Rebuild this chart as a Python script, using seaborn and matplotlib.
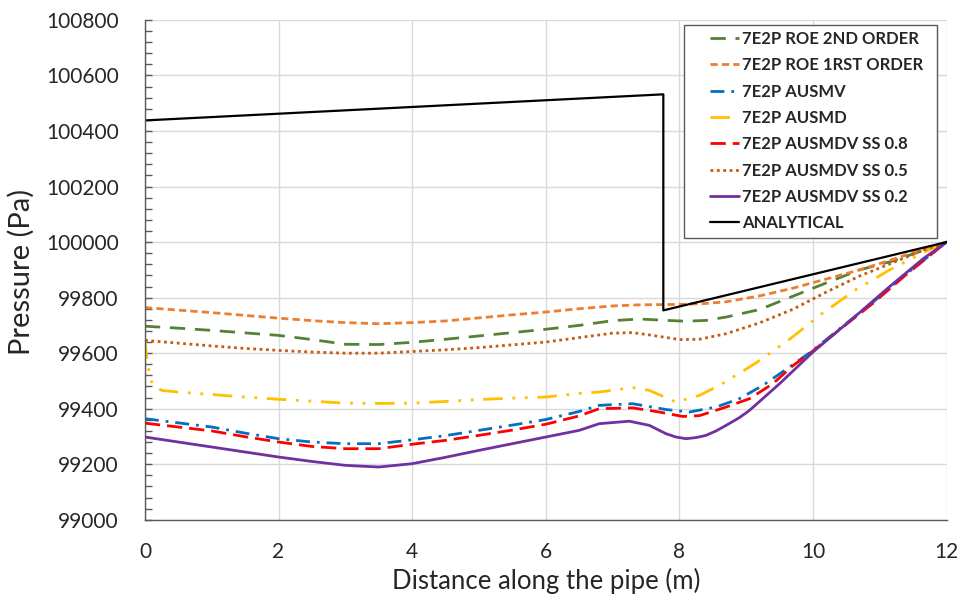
import matplotlib
matplotlib.use("Agg")
import matplotlib.pyplot as plt
from matplotlib.ticker import MultipleLocator
from matplotlib.patches import Rectangle
import seaborn as sns

# ---------------- data ----------------
x_roe1 = [0, 0.5, 1, 1.5, 2, 2.5, 3, 3.5, 4, 4.5, 5, 5.5, 6, 6.5, 7, 7.4, 7.8, 8.1, 8.4, 8.7, 9.2, 9.7, 10.2, 10.7, 11.2, 11.6, 12]
p_roe1 = [99764, 99755, 99746, 99736, 99726, 99717, 99710, 99706, 99710, 99716, 99727, 99738, 99748, 99760, 99770, 99774, 99775, 99776, 99779, 99785, 99806, 99834, 99867, 99900, 99938, 99970, 100000]

x_roe2 = [0, 0.5, 1, 1.5, 2, 2.5, 3, 3.5, 4, 4.5, 5, 5.5, 6, 6.5, 7, 7.4, 7.8, 8.1, 8.4, 8.7, 9.2, 9.7, 10.2, 10.7, 11.2, 11.6, 12]
p_roe2 = [99697, 99690, 99682, 99673, 99664, 99649, 99632, 99631, 99639, 99650, 99662, 99674, 99686, 99700, 99717, 99723, 99718, 99715, 99718, 99730, 99757, 99805, 99853, 99900, 99932, 99966, 100000]

x_ausmv = [0, 0.5, 1, 1.5, 2, 2.5, 3, 3.5, 4, 4.5, 5, 5.5, 6, 6.5, 6.8, 7.3, 7.8, 8.15, 8.55, 8.9, 9.25, 9.65, 10, 10.4, 10.9, 11.4, 12]
p_ausmv = [99364, 99349, 99334, 99312, 99292, 99280, 99274, 99274, 99288, 99303, 99322, 99341, 99361, 99390, 99412, 99418, 99397, 99388, 99406, 99436, 99484, 99550, 99610, 99688, 99784, 99886, 100000]

x_ausmd = [0, 0.02, 0.05, 0.08, 0.12, 0.25, 0.5, 1, 1.5, 2, 2.5, 3, 3.5, 4, 4.5, 5, 5.5, 6, 6.5, 6.8, 7.3, 7.55, 7.95, 8.3, 8.6, 9.15, 9.65, 10.15, 10.65, 11.15, 11.65, 12]
p_ausmd = [99650, 99600, 99550, 99510, 99484, 99466, 99460, 99451, 99442, 99434, 99427, 99420, 99419, 99420, 99426, 99433, 99438, 99442, 99455, 99460, 99476, 99466, 99424, 99448, 99484, 99565, 99650, 99745, 99830, 99900, 99962, 100000]

x_ss08 = [0, 0.5, 1, 1.5, 2, 2.5, 3, 3.5, 4, 4.5, 5, 5.5, 6, 6.5, 6.8, 7.3, 7.7, 8.05, 8.3, 8.7, 9.05, 9.4, 9.7, 10, 10.4, 10.9, 11.4, 12]
p_ss08 = [99348, 99334, 99320, 99299, 99280, 99264, 99256, 99256, 99272, 99286, 99304, 99323, 99344, 99374, 99400, 99403, 99388, 99372, 99375, 99406, 99436, 99490, 99555, 99608, 99685, 99780, 99884, 100000]

x_ss05 = [0, 0.5, 1, 1.5, 2, 2.5, 3, 3.5, 4, 4.5, 5, 5.5, 6, 6.5, 7, 7.3, 7.6, 8, 8.3, 8.7, 9.2, 9.7, 10.2, 10.7, 11.2, 11.6, 12]
p_ss05 = [99646, 99636, 99626, 99617, 99610, 99604, 99600, 99600, 99606, 99612, 99620, 99630, 99640, 99656, 99672, 99674, 99664, 99649, 99650, 99670, 99709, 99758, 99820, 99878, 99926, 99966, 100000]

x_ss02 = [0, 0.5, 1, 1.5, 2, 2.5, 3, 3.5, 4, 4.5, 5, 5.5, 6, 6.5, 6.8, 7.25, 7.55, 7.8, 7.95, 8.1, 8.25, 8.4, 8.55, 8.7, 8.9, 9.05, 9.5, 10, 10.65, 11.15, 11.65, 12]
p_ss02 = [99298, 99280, 99262, 99244, 99226, 99210, 99196, 99190, 99202, 99225, 99250, 99274, 99298, 99322, 99346, 99355, 99340, 99310, 99298, 99292, 99296, 99304, 99320, 99340, 99368, 99394, 99490, 99604, 99736, 99840, 99940, 100000]

x_anal = [0, 7.76, 7.76, 12]
p_anal = [100438, 100532, 99754, 100000]

labels = ["7E2P ROE 2ND ORDER", "7E2P ROE 1RST ORDER", "7E2P AUSMV", "7E2P AUSMD",
          "7E2P AUSMDV SS 0.8", "7E2P AUSMDV SS 0.5", "7E2P AUSMDV SS 0.2", "ANALYTICAL"]
x_ticks = [0, 2, 4, 6, 8, 10, 12]
y_ticks = [99000, 99200, 99400, 99600, 99800, 100000, 100200, 100400, 100600, 100800]

# ---------------- style ----------------
sns.set_theme(style="white")
plt.rcParams["font.family"] = ["Lato", "DejaVu Sans"]

fig = plt.figure(figsize=(9.6, 6.03), dpi=100)
ax = fig.add_axes([0.151, 0.138, 0.835, 0.829])

series = [
    (x_roe2, p_roe2, "#548235", (0, (5.5, 3.5)), 2.0),
    (x_roe1, p_roe1, "#ED7D31", (0, (2.6, 1.5)), 2.0),
    (x_ausmv, p_ausmv, "#0070C0", (0, (5, 2.5, 1, 2.5)), 2.0),
    (x_ausmd, p_ausmd, "#FFC000", (0, (7, 3.5, 1, 3.5, 1, 3.5)), 2.0),
    (x_ss08, p_ss08, "#FF0000", (0, (5.5, 2.5)), 2.0),
    (x_ss05, p_ss05, "#C55A11", (0, (1, 1.3)), 2.0),
    (x_ss02, p_ss02, "#7030A0", "-", 2.0),
    (x_anal, p_anal, "#000000", "-", 1.6),
]

for (xs, ps, col, ls, lw), lab in zip(series, labels):
    sns.lineplot(x=xs, y=ps, ax=ax, color=col, linestyle=ls, linewidth=lw,
                 label=lab, estimator=None, sort=False)

ax.set_xlim(0, 12)
ax.set_ylim(99000, 100800)
ax.set_xticks(x_ticks)
ax.set_yticks(y_ticks)
ax.yaxis.set_minor_locator(MultipleLocator(40))
ax.grid(True, which="major", color="#d9d9d9", linewidth=1.0)
ax.set_axisbelow(True)

for s in ["top", "right"]:
    ax.spines[s].set_visible(False)
for s in ["left", "bottom"]:
    ax.spines[s].set_color("#595959")
    ax.spines[s].set_linewidth(1.0)

ax.tick_params(axis="x", which="both", length=0, labelsize=15, pad=16, colors="#262626")
ax.tick_params(axis="y", which="major", direction="in", length=5, width=1, color="#595959",
               labelsize=15, pad=19, labelcolor="#262626", left=True)
ax.tick_params(axis="y", which="minor", direction="in", length=5, width=1, color="#595959", left=True)

ax.set_xlabel("Distance along the pipe (m)", fontsize=18.5, color="#262626")
ax.set_ylabel("Pressure (Pa)", fontsize=21, color="#262626")
ax.xaxis.set_label_coords(0.5, -0.097)
ax.yaxis.set_label_coords(-0.138, 0.496)

# legend frame drawn as a patch (wider horizontal padding like the reference)
frame = Rectangle((0.673, 0.564), 0.3145, 0.426, transform=ax.transAxes,
                  facecolor="white", edgecolor="#595959", linewidth=1.0, zorder=4)
ax.add_patch(frame)

leg = ax.legend(loc="upper left", bbox_to_anchor=(0.705, 0.978), frameon=False,
                handlelength=1.75, handletextpad=0.15,
                labelspacing=0.62, borderpad=0, borderaxespad=0,
                prop={"family": ["Lato", "DejaVu Sans"], "weight": "bold", "size": 12})
leg.set_zorder(5)
for t in leg.get_texts():
    t.set_color("#262626")

fig.savefig("out.png", dpi=100)
